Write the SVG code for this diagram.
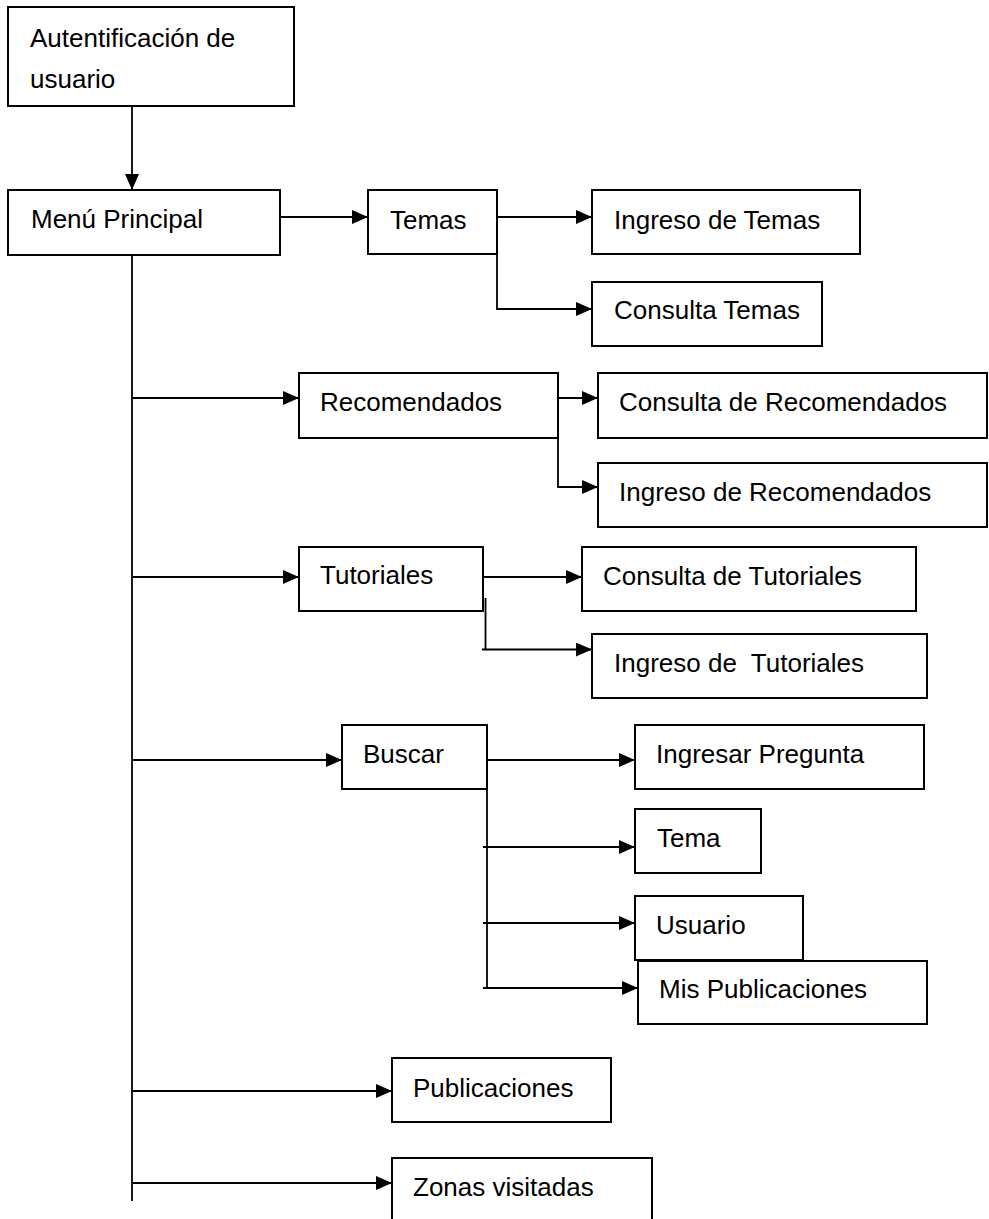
<svg xmlns="http://www.w3.org/2000/svg" width="989" height="1219" viewBox="0 0 989 1219">
  <style>
    .box { fill: #ffffff; stroke: #000000; stroke-width: 2; }
    .lbl { font-family: "Liberation Sans", Arial, sans-serif; font-size: 26px; fill: #000000; white-space: pre; }
    .ln { fill: none; stroke: #000000; stroke-width: 1.8; }
  </style>
  <defs>
    <marker id="arrow" markerUnits="userSpaceOnUse" markerWidth="16" markerHeight="14" refX="16" refY="7" orient="auto">
      <path d="M0,0 L16,7 L0,14 Z" fill="#000000"/>
    </marker>
  </defs>
  <rect width="989" height="1219" fill="#ffffff"/>

  <!-- connectors -->
  <g id="connectors">
    <line class="ln" x1="132" y1="106" x2="132" y2="190" marker-end="url(#arrow)"/>
    <line class="ln" x1="132" y1="255" x2="132" y2="1201"/>
    <line class="ln" x1="280" y1="217" x2="368" y2="217" marker-end="url(#arrow)"/>
    <line class="ln" x1="497" y1="217" x2="592" y2="217" marker-end="url(#arrow)"/>
    <path class="ln" d="M497,254 V309 H592" marker-end="url(#arrow)"/>
    <line class="ln" x1="132" y1="398" x2="299" y2="398" marker-end="url(#arrow)"/>
    <line class="ln" x1="558" y1="398" x2="598" y2="398" marker-end="url(#arrow)"/>
    <path class="ln" d="M558,438 V487 H598" marker-end="url(#arrow)"/>
    <line class="ln" x1="132" y1="577" x2="299" y2="577" marker-end="url(#arrow)"/>
    <line class="ln" x1="483" y1="577" x2="582" y2="577" marker-end="url(#arrow)"/>
    <line class="ln" x1="485.5" y1="598" x2="485.5" y2="650"/>
    <line class="ln" x1="482" y1="649.5" x2="592" y2="649.5" marker-end="url(#arrow)"/>
    <line class="ln" x1="132" y1="760" x2="342" y2="760" marker-end="url(#arrow)"/>
    <line class="ln" x1="487" y1="760" x2="635" y2="760" marker-end="url(#arrow)"/>
    <line class="ln" x1="487" y1="774" x2="487" y2="989"/>
    <line class="ln" x1="483" y1="847" x2="635" y2="847" marker-end="url(#arrow)"/>
    <line class="ln" x1="483" y1="923" x2="635" y2="923" marker-end="url(#arrow)"/>
    <line class="ln" x1="483" y1="988" x2="638" y2="988" marker-end="url(#arrow)"/>
    <line class="ln" x1="132" y1="1091" x2="392" y2="1091" marker-end="url(#arrow)"/>
    <line class="ln" x1="132" y1="1183" x2="392" y2="1183" marker-end="url(#arrow)"/>
  </g>

  <!-- nodes -->
  <g id="autentificacion">
    <rect class="box" x="8" y="7" width="286" height="99"/>
    <text class="lbl" x="30" y="47">Autentificación de</text>
    <text class="lbl" x="30" y="88">usuario</text>
  </g>
  <g id="menu-principal">
    <rect class="box" x="8" y="190" width="272" height="65"/>
    <text class="lbl" x="31" y="228">Menú Principal</text>
  </g>
  <g id="temas">
    <rect class="box" x="368" y="190" width="129" height="64"/>
    <text class="lbl" x="390" y="229">Temas</text>
  </g>
  <g id="ingreso-temas">
    <rect class="box" x="592" y="190" width="268" height="64"/>
    <text class="lbl" x="614" y="229">Ingreso de Temas</text>
  </g>
  <g id="consulta-temas">
    <rect class="box" x="592" y="282" width="230" height="64"/>
    <text class="lbl" x="614" y="319">Consulta Temas</text>
  </g>
  <g id="recomendados">
    <rect class="box" x="299" y="373" width="259" height="65"/>
    <text class="lbl" x="320" y="411">Recomendados</text>
  </g>
  <g id="consulta-recomendados">
    <rect class="box" x="598" y="373" width="389" height="65"/>
    <text class="lbl" x="619" y="411">Consulta de Recomendados</text>
  </g>
  <g id="ingreso-recomendados">
    <rect class="box" x="598" y="463" width="389" height="64"/>
    <text class="lbl" x="619" y="501">Ingreso de Recomendados</text>
  </g>
  <g id="tutoriales">
    <rect class="box" x="299" y="547" width="184" height="64"/>
    <text class="lbl" x="320" y="584">Tutoriales</text>
  </g>
  <g id="consulta-tutoriales">
    <rect class="box" x="582" y="547" width="334" height="64"/>
    <text class="lbl" x="603" y="585">Consulta de Tutoriales</text>
  </g>
  <g id="ingreso-tutoriales">
    <rect class="box" x="592" y="634" width="335" height="64"/>
    <text class="lbl" x="614" y="672" xml:space="preserve">Ingreso de  Tutoriales</text>
  </g>
  <g id="buscar">
    <rect class="box" x="342" y="725" width="145" height="64"/>
    <text class="lbl" x="363" y="763">Buscar</text>
  </g>
  <g id="ingresar-pregunta">
    <rect class="box" x="635" y="725" width="289" height="64"/>
    <text class="lbl" x="656" y="763">Ingresar Pregunta</text>
  </g>
  <g id="tema">
    <rect class="box" x="635" y="809" width="126" height="64"/>
    <text class="lbl" x="657" y="847">Tema</text>
  </g>
  <g id="usuario">
    <rect class="box" x="635" y="896" width="168" height="64"/>
    <text class="lbl" x="656" y="934">Usuario</text>
  </g>
  <g id="mis-publicaciones">
    <rect class="box" x="638" y="961" width="289" height="63"/>
    <text class="lbl" x="659" y="998">Mis Publicaciones</text>
  </g>
  <g id="publicaciones">
    <rect class="box" x="392" y="1058" width="219" height="64"/>
    <text class="lbl" x="413" y="1097">Publicaciones</text>
  </g>
  <g id="zonas-visitadas">
    <rect class="box" x="392" y="1158" width="260" height="70"/>
    <text class="lbl" x="413" y="1196">Zonas visitadas</text>
  </g>
</svg>
